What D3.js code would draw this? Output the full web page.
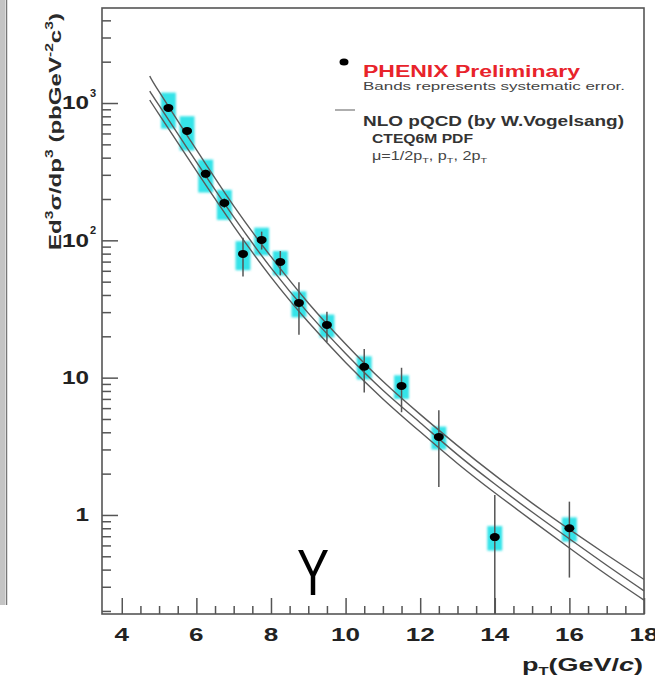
<!DOCTYPE html>
<html>
<head>
<meta charset="utf-8">
<script src="https://cdn.jsdelivr.net/npm/d3@7"></script>
<style>
  body { margin: 0; background: #fff; }
  svg { display: block; font-family: "Liberation Sans", Arial, sans-serif; }
</style>
</head>
<body>
<svg id="chart" width="655" height="677"></svg>
<script>
// measured points (pT bins, GeV/c)
const ptValues = [5.25, 5.75, 6.25, 6.75, 7.25, 7.75, 8.25, 8.75, 9.5, 10.5, 11.5, 12.5, 14, 16];
const yieldValues = [921, 626, 305, 187, 79.6, 100.7, 69.6, 35, 24.2, 12.0, 8.7, 3.7, 0.69, 0.80];
const statErr = [40, 35, 22, 15, 25, 15, 14, 14.5, 6, 4.2, 3.1, 2.1, 0.71, 0.45];
const sysErr = [270, 175, 82, 46, 19, 23, 14, 7.5, 4.6, 2.3, 1.7, 0.7, 0.14, 0.16];

// NLO pQCD curves, mu = 1/2 pT, pT, 2 pT
const theoryPt = [4.75, 5, 6, 7, 8, 9, 10, 11, 12, 13, 14, 15, 16, 17, 18];
const theoryHigh = [1574, 1208, 457, 178, 76, 35, 17.6, 9.4, 5.4, 3.2, 1.95, 1.22, 0.785, 0.513, 0.339];
const theoryMid = [1222, 960, 372, 148, 63, 29.5, 15.0, 8.1, 4.7, 2.75, 1.68, 1.05, 0.67, 0.43, 0.28];
const theoryLow = [1052, 826, 320, 127, 54, 25.4, 12.9, 7.0, 4.03, 2.37, 1.45, 0.91, 0.575, 0.367, 0.24];

const xTicks = [4, 6, 8, 10, 12, 14, 16, 18];
const yTicks = [1, 10, 100, 1000];
const yTickLabels = ["1", "10", "10", "10"];
const yTickSups = ["", "", "2", "3"];

const svg = d3.select("#chart");

const x = d3.scaleLinear().domain([3.47, 18]).range([102, 644]);
const y = d3.scaleLog().domain([0.19, 4920]).range([614, 8]);
const [x0, x1] = x.range();
const [y0, y1] = y.range();

// scanned edge on the far left
svg.append("rect").attr("x", 0).attr("y", 0).attr("width", 5).attr("height", 605).attr("fill", "#c4c4c4");
svg.append("line").attr("x1", 6.5).attr("x2", 6.5).attr("y1", 0).attr("y2", 605)
  .attr("stroke", "#777").attr("stroke-width", 1.5);

const defs = svg.append("defs");
defs.append("filter").attr("id", "soft").attr("x", "-50%").attr("y", "-50%").attr("width", "200%").attr("height", "200%")
  .append("feGaussianBlur").attr("stdDeviation", 1.3);

const points = ptValues.map((p, i) => ({ pt: p, v: yieldValues[i], stat: statErr[i], sys: sysErr[i] }));

// systematic bands
svg.append("g").attr("filter", "url(#soft)")
  .selectAll("rect")
  .data(points)
  .join("rect")
  .attr("x", (d) => x(d.pt - 0.2))
  .attr("width", (d) => x(d.pt + 0.2) - x(d.pt - 0.2))
  .attr("y", (d) => y(d.v + d.sys))
  .attr("height", (d) => y(d.v - d.sys) - y(d.v + d.sys))
  .attr("fill", "#35e3e8");

// theory curves
const line = d3.line()
  .x((d) => x(d[0]))
  .y((d) => y(d[1]))
  .curve(d3.curveNatural);

[theoryHigh, theoryMid, theoryLow].forEach((series) => {
  svg.append("path")
    .datum(theoryPt.map((p, i) => [p, series[i]]))
    .attr("d", line)
    .attr("fill", "none")
    .attr("stroke", "#5a5a5a")
    .attr("stroke-width", 1.4);
});

// statistical error bars
svg.append("g")
  .selectAll("line")
  .data(points)
  .join("line")
  .attr("x1", (d) => x(d.pt))
  .attr("x2", (d) => x(d.pt))
  .attr("y1", (d) => y(d.v + d.stat))
  .attr("y2", (d) => y(Math.max(d.v - d.stat, y.domain()[0])))
  .attr("stroke", "#555")
  .attr("stroke-width", 1.5);

// data points
svg.append("g")
  .selectAll("ellipse")
  .data(points)
  .join("ellipse")
  .attr("cx", (d) => x(d.pt))
  .attr("cy", (d) => y(d.v))
  .attr("rx", 5)
  .attr("ry", 4)
  .attr("fill", "#000");

// frame
svg.append("rect")
  .attr("x", x0).attr("y", y1)
  .attr("width", x1 - x0).attr("height", y0 - y1)
  .attr("fill", "none").attr("stroke", "#555").attr("stroke-width", 1.6);

// x axis ticks (inside, pointing up)
const xMinor = d3.range(4, 18.01, 0.5).filter((v) => v % 2 !== 0);
svg.append("g").attr("transform", `translate(0,${y0})`)
  .call(d3.axisTop(x).tickValues(xTicks).tickSize(16).tickFormat(""))
  .call((g) => g.select(".domain").remove());
svg.append("g").attr("transform", `translate(0,${y0})`)
  .call(d3.axisTop(x).tickValues(xMinor).tickSize(8).tickFormat(""))
  .call((g) => g.select(".domain").remove());

// x tick labels
svg.append("g")
  .selectAll("text")
  .data(xTicks)
  .join("text")
  .attr("x", (d) => x(d))
  .attr("y", 641)
  .attr("text-anchor", "middle")
  .attr("font-size", 18)
  .attr("font-weight", "bold")
  .attr("fill", "#222")
  .attr("textLength", (d) => String(d).length * 14.5)
  .attr("lengthAdjust", "spacingAndGlyphs")
  .text((d) => d);

// y axis ticks (inside, pointing right)
const yMinor = [];
[-1, 0, 1, 2, 3].forEach((k) => {
  for (let m = 2; m <= 9; m++) {
    const v = m * Math.pow(10, k);
    if (v > y.domain()[0] && v < y.domain()[1]) yMinor.push(v);
  }
});
svg.append("g").attr("transform", `translate(${x0},0)`)
  .call(d3.axisRight(y).tickValues(yTicks).tickSize(16).tickFormat(""))
  .call((g) => g.select(".domain").remove());
svg.append("g").attr("transform", `translate(${x0},0)`)
  .call(d3.axisRight(y).tickValues(yMinor).tickSize(9).tickFormat(""))
  .call((g) => g.select(".domain").remove());
svg.selectAll(".tick line").attr("stroke", "#555").attr("stroke-width", 1.5);

// y tick labels
const yLab = svg.append("g").attr("font-weight", "bold").attr("fill", "#222");
yLab.selectAll("text.main")
  .data(yTicks)
  .join("text")
  .attr("class", "main")
  .attr("x", 89)
  .attr("y", (d) => y(d))
  .attr("dy", "0.36em")
  .attr("text-anchor", "end")
  .attr("font-size", 18)
  .attr("textLength", (d, i) => yTickLabels[i].length * 13.5)
  .attr("lengthAdjust", "spacingAndGlyphs")
  .text((d, i) => yTickLabels[i]);
yLab.selectAll("text.sup")
  .data(yTicks.filter((d, i) => yTickSups[i]))
  .join("text")
  .attr("class", "sup")
  .attr("x", 90)
  .attr("y", (d) => y(d) - 6)
  .attr("font-size", 11)
  .text((d) => yTickSups[yTicks.indexOf(d)]);

// y axis title
const yTitle = svg.append("text")
  .attr("transform", "translate(61,250) rotate(-90)")
  .attr("font-size", 17)
  .attr("font-weight", "bold")
  .attr("fill", "#2a2a2a")
  .attr("textLength", 237)
  .attr("lengthAdjust", "spacingAndGlyphs");
yTitle.append("tspan").text("Ed");
yTitle.append("tspan").attr("dy", -8).attr("font-size", 11).text("3");
yTitle.append("tspan").attr("dy", 8).text("σ/dp");
yTitle.append("tspan").attr("dy", -8).attr("font-size", 11).text("3");
yTitle.append("tspan").attr("dy", 8).text(" (pbGeV");
yTitle.append("tspan").attr("dy", -8).attr("font-size", 11).text("-2");
yTitle.append("tspan").attr("dy", 8).text("c");
yTitle.append("tspan").attr("dy", -8).attr("font-size", 11).text("3");
yTitle.append("tspan").attr("dy", 8).text(")");

// x axis title
const xTitle = svg.append("text")
  .attr("x", 643)
  .attr("y", 671)
  .attr("text-anchor", "end")
  .attr("font-size", 18)
  .attr("font-weight", "bold")
  .attr("fill", "#222")
  .attr("textLength", 121)
  .attr("lengthAdjust", "spacingAndGlyphs");
xTitle.append("tspan").text("p");
xTitle.append("tspan").attr("dy", 4).attr("font-size", 11).text("T");
xTitle.append("tspan").attr("dy", -4).text("(GeV/");
xTitle.append("tspan").attr("font-style", "italic").text("c");
xTitle.append("tspan").text(")");

// legend
const leg = svg.append("g");
leg.append("ellipse").attr("cx", 344).attr("cy", 62).attr("rx", 4.5).attr("ry", 3.5).attr("fill", "#000");
leg.append("text").attr("x", 363).attr("y", 77)
  .attr("font-size", 16).attr("font-weight", "bold").attr("fill", "#e8232b")
  .attr("textLength", 217).attr("lengthAdjust", "spacingAndGlyphs")
  .text("PHENIX Preliminary");
leg.append("text").attr("x", 363).attr("y", 90)
  .attr("font-size", 10).attr("fill", "#444")
  .attr("textLength", 262).attr("lengthAdjust", "spacingAndGlyphs")
  .text("Bands represents systematic error.");
leg.append("line").attr("x1", 335).attr("x2", 355).attr("y1", 110).attr("y2", 110)
  .attr("stroke", "#777").attr("stroke-width", 1.2);
leg.append("text").attr("x", 363).attr("y", 126)
  .attr("font-size", 14).attr("font-weight", "bold").attr("fill", "#333")
  .attr("textLength", 261).attr("lengthAdjust", "spacingAndGlyphs")
  .text("NLO pQCD (by W.Vogelsang)");
leg.append("text").attr("x", 372).attr("y", 143)
  .attr("font-size", 13).attr("font-weight", "bold").attr("fill", "#333")
  .attr("textLength", 101).attr("lengthAdjust", "spacingAndGlyphs")
  .text("CTEQ6M PDF");
const mu = leg.append("text").attr("x", 372).attr("y", 160)
  .attr("font-size", 12).attr("fill", "#444")
  .attr("textLength", 115).attr("lengthAdjust", "spacingAndGlyphs");
mu.append("tspan").text("μ=1/2p");
mu.append("tspan").attr("dy", 3).attr("font-size", 8).text("T");
mu.append("tspan").attr("dy", -3).text(", p");
mu.append("tspan").attr("dy", 3).attr("font-size", 8).text("T");
mu.append("tspan").attr("dy", -3).text(", 2p");
mu.append("tspan").attr("dy", 3).attr("font-size", 8).text("T");

// annotation
svg.append("text")
  .attr("transform", "translate(313,595) scale(0.74,1)")
  .attr("text-anchor", "middle")
  .attr("font-size", 65)
  .attr("fill", "#000")
  .text("Y");
</script>
</body>
</html>
